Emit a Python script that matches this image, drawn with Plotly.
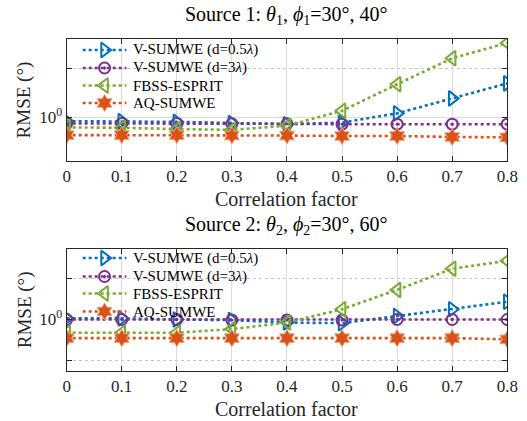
import plotly.graph_objects as go

# Correlation factor (shared x values)
corr = [0, 0.1, 0.2, 0.3, 0.4, 0.5, 0.6, 0.7, 0.8]
x_ticks = [0, 0.1, 0.2, 0.3, 0.4, 0.5, 0.6, 0.7, 0.8]
x_tick_text = ["0", "0.1", "0.2", "0.3", "0.4", "0.5", "0.6", "0.7", "0.8"]

# Source 1 RMSE (deg)
s1_vsumwe_05 = [0.95, 0.95, 0.94, 0.925, 0.91, 0.93, 1.06, 1.31, 1.62]
s1_vsumwe_3 = [0.92, 0.92, 0.92, 0.915, 0.915, 0.91, 0.91, 0.91, 0.91]
s1_fbss = [0.87, 0.865, 0.85, 0.84, 0.89, 1.10, 1.60, 2.31, 2.87]
s1_aq = [0.78, 0.78, 0.78, 0.775, 0.775, 0.77, 0.77, 0.76, 0.755]

# Source 2 RMSE (deg)
s2_vsumwe_05 = [1.02, 1.02, 1.0, 0.99, 0.95, 0.94, 1.06, 1.19, 1.35]
s2_vsumwe_3 = [1.0, 1.0, 1.0, 0.99, 0.99, 0.99, 1.0, 1.0, 1.0]
s2_fbss = [0.80, 0.80, 0.80, 0.85, 0.95, 1.19, 1.65, 2.36, 2.70]
s2_aq = [0.73, 0.73, 0.73, 0.73, 0.73, 0.73, 0.73, 0.73, 0.715]

names = ["V-SUMWE (d=0.5<i>λ</i>)", "V-SUMWE (d=3<i>λ</i>)", "FBSS-ESPRIT", "AQ-SUMWE"]
colors = ["#0072BD", "#7E2F8E", "#77AC30", "#D95319"]
symbols = ["triangle-right-open", "circle-open-dot", "triangle-left-open", "hexagram"]
sizes = [13, 11, 13, 13]

W, H = 527, 421
font_family = "Liberation Serif"
axis_color = "#262626"

# plot boxes (top, bottom) in pixels and legend row positions
boxes = [(39, 161), (249, 370.7)]
legend_rows = [[50, 68, 85.5, 103], [258, 276.5, 293.5, 311.5]]
key_x0, key_x1, key_text = 81, 126, 131

panels = [
    dict(series=[s1_vsumwe_05, s1_vsumwe_3, s1_fbss, s1_aq], xa="x", ya="y",
         yr=[-0.267, 0.482], minor=[2]),
    dict(series=[s2_vsumwe_05, s2_vsumwe_3, s2_fbss, s2_aq], xa="x2", ya="y2",
         yr=[-0.376, 0.518], minor=[0.5, 2]),
]


def marker_style(sym, sz, c):
    if sym == "hexagram":
        return dict(symbol=sym, size=sz, color=c, line=dict(color="#f0a07c", width=1))
    return dict(symbol=sym, size=sz, color=c, line=dict(color=c, width=2))


line_dash = "3px,3px"
fig = go.Figure()
for p in panels:
    for vals, nm, c, sym, sz in zip(p["series"], names, colors, symbols, sizes):
        fig.add_trace(go.Scatter(
            x=corr, y=vals, name=nm, mode="lines+markers", showlegend=False,
            line=dict(color=c, width=2.6, dash=line_dash),
            marker=marker_style(sym, sz, c), xaxis=p["xa"], yaxis=p["ya"],
        ))

# legend keys on a full-page pixel overlay
for rows in legend_rows:
    for yk, nm, c, sym, sz in zip(rows, names, colors, symbols, sizes):
        fig.add_trace(go.Scatter(
            x=[key_x0, key_x1], y=[yk, yk], mode="lines", showlegend=False, hoverinfo="skip",
            line=dict(color=c, width=2.6, dash=line_dash), xaxis="x3", yaxis="y3"))
        fig.add_trace(go.Scatter(
            x=[(key_x0 + key_x1) / 2], y=[yk], mode="markers", showlegend=False,
            hoverinfo="skip", marker=marker_style(sym, sz, c), xaxis="x3", yaxis="y3"))
        fig.add_annotation(text=nm, x=key_text / W, y=1 - yk / H, xref="paper", yref="paper",
                           showarrow=False, xanchor="left", yanchor="middle",
                           font=dict(family=font_family, size=15, color="#000000"))

x0, x1 = 64.5 / W, 518 / W


def xaxis_cfg(anchor):
    return dict(domain=[x0, x1], range=[0, 0.8], anchor=anchor,
                tickvals=x_ticks, ticktext=x_tick_text, ticklabeloverflow="allow",
                ticks="inside", ticklen=5, tickcolor=axis_color, mirror="ticks",
                showline=True, linecolor=axis_color, linewidth=1,
                showgrid=True, gridcolor="#dcdcdc", gridwidth=1,
                zeroline=False, tickfont=dict(family=font_family, size=17, color="#262626"))


def yaxis_cfg(anchor, box, yr, minor):
    top, bot = box
    return dict(domain=[1 - bot / H, 1 - top / H], type="log", range=yr, anchor=anchor,
                tickvals=[1], ticktext=["10<sup>0</sup>"],
                ticks="inside", ticklen=5, tickcolor=axis_color, mirror="ticks",
                showline=True, linecolor=axis_color, linewidth=1,
                showgrid=True, gridcolor="#dcdcdc", gridwidth=1, zeroline=False,
                minor=dict(tickvals=minor, ticks="inside", ticklen=5, tickcolor=axis_color,
                           showgrid=True, gridcolor="#c4c4c4", griddash="dot", gridwidth=1),
                tickfont=dict(family=font_family, size=17, color="#262626"))


fig.update_layout(
    width=W, height=H, margin=dict(l=0, r=0, t=0, b=0),
    paper_bgcolor="white", plot_bgcolor="rgba(0,0,0,0)",
    xaxis=xaxis_cfg("y"), yaxis=yaxis_cfg("x", boxes[0], panels[0]["yr"], panels[0]["minor"]),
    xaxis2=xaxis_cfg("y2"), yaxis2=yaxis_cfg("x2", boxes[1], panels[1]["yr"], panels[1]["minor"]),
    xaxis3=dict(domain=[0, 1], range=[0, W], visible=False, fixedrange=True, anchor="y3"),
    yaxis3=dict(domain=[0, 1], range=[H, 0], visible=False, fixedrange=True, anchor="x3"),
    showlegend=False,
)

titles = [
    ("Source 1: <i>θ</i><sub>1</sub>, <i>ϕ</i><sub>1</sub>=30°, 40°", 15),
    ("Source 2: <i>θ</i><sub>2</sub>, <i>ϕ</i><sub>2</sub>=30°, 60°", 225),
]
for txt, yc in titles:
    fig.add_annotation(text=txt, x=(x0 + x1) / 2, y=1 - yc / H, xref="paper", yref="paper",
                       showarrow=False, xanchor="center", yanchor="middle",
                       font=dict(family=font_family, size=20, color="#000000"))

for yc in (199, 409):
    fig.add_annotation(text="Correlation factor", x=(x0 + x1) / 2, y=1 - yc / H,
                       xref="paper", yref="paper", showarrow=False,
                       xanchor="center", yanchor="middle",
                       font=dict(family=font_family, size=20, color="#262626"))

for box in boxes:
    yc = (box[0] + box[1]) / 2
    fig.add_annotation(text="RMSE (°)", x=21 / W, y=1 - yc / H, xref="paper", yref="paper",
                       showarrow=False, textangle=-90, xanchor="center", yanchor="middle",
                       font=dict(family=font_family, size=19, color="#262626"))

fig.write_html("out.html")
